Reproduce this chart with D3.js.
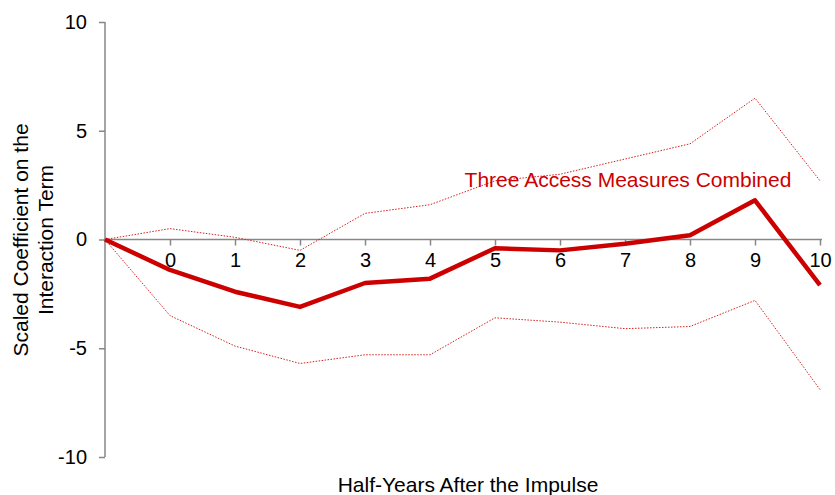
<!DOCTYPE html>
<html><head><meta charset="utf-8">
<script src="https://cdn.jsdelivr.net/npm/d3@7"></script>
<style>body{margin:0;background:#fff;font-family:Arial,"Liberation Sans",sans-serif}</style>
</head><body><div id="chart"></div>
<script>
(function () {
  'use strict';
  var periods = [-1, 0, 1, 2, 3, 4, 5, 6, 7, 8, 9, 10];
  var estimate = [0, -1.4, -2.4, -3.1, -2.0, -1.8, -0.4, -0.5, -0.2, 0.2, 1.8, -2.1];
  var upper = [0, 0.5, 0.1, -0.5, 1.2, 1.6, 2.7, 3.0, 3.7, 4.4, 6.5, 2.7];
  var lower = [0, -3.5, -4.9, -5.7, -5.3, -5.3, -3.6, -3.8, -4.1, -4.0, -2.8, -6.9];
  var yTicks = [-10, -5, 0, 5, 10];
  var xLabels = [0, 1, 2, 3, 4, 5, 6, 7, 8, 9, 10];

  var W = 835, H = 495;
  var font = 'Arial,"Liberation Sans",sans-serif';
  var svg = d3.select('#chart').append('svg').attr('width', W).attr('height', H);
  var x = d3.scaleLinear().domain([-1, 10]).range([105, 820]);
  var y = d3.scaleLinear().domain([-10, 10]).range([457, 22]);
  var axisColor = '#878787';

  svg.append('g').attr('transform', 'translate(105,0)')
    .call(d3.axisLeft(y).tickValues(yTicks).tickSize(6).tickPadding(12).tickFormat(function (d) { return String(d); }))
    .call(function (g) {
      g.selectAll('line,path').attr('stroke', axisColor).attr('stroke-width', 1.5);
      g.select('.domain').attr('d', 'M0,' + y(-10) + 'V' + y(10));
      g.selectAll('text').attr('font-size', '20px').attr('font-family', font).attr('fill', '#000');
    });

  svg.append('g').attr('transform', 'translate(0,' + y(0) + ')')
    .call(d3.axisBottom(x).tickValues(xLabels).tickSize(6).tickPadding(7).tickFormat(d3.format('d')))
    .call(function (g) {
      g.selectAll('line,path').attr('stroke', axisColor).attr('stroke-width', 1.5);
      g.select('.domain').attr('d', 'M' + x(-1) + ',0H' + 822);
      g.selectAll('text').attr('font-size', '20px').attr('font-family', font).attr('fill', '#000');
    });

  var line = d3.line().x(function (d, i) { return x(periods[i]); }).y(function (d) { return y(d); });
  [upper, lower].forEach(function (s) {
    svg.append('path').datum(s).attr('d', line).attr('fill', 'none')
      .attr('stroke', '#d62020').attr('stroke-width', 1).attr('stroke-dasharray', '1.5,1.5');
  });
  svg.append('path').datum(estimate).attr('d', line).attr('fill', 'none')
    .attr('stroke', '#cc0000').attr('stroke-width', 4.5).attr('stroke-linejoin', 'round');

  svg.append('text').attr('x', 628).attr('y', 187).attr('text-anchor', 'middle')
    .attr('font-size', '21px').attr('fill', '#cc0000').text('Three Access Measures Combined');

  svg.append('text').attr('x', 468).attr('y', 492).attr('text-anchor', 'middle')
    .attr('font-size', '21px').text('Half-Years After the Impulse');

  var yl = svg.append('text').attr('transform', 'translate(28,240) rotate(-90)').attr('text-anchor', 'middle').attr('font-size', '21px');
  yl.append('tspan').attr('x', 0).attr('dy', 0).text('Scaled Coefficient on the');
  yl.append('tspan').attr('x', 0).attr('dy', 25).text('Interaction Term');
})();
</script></body></html>
